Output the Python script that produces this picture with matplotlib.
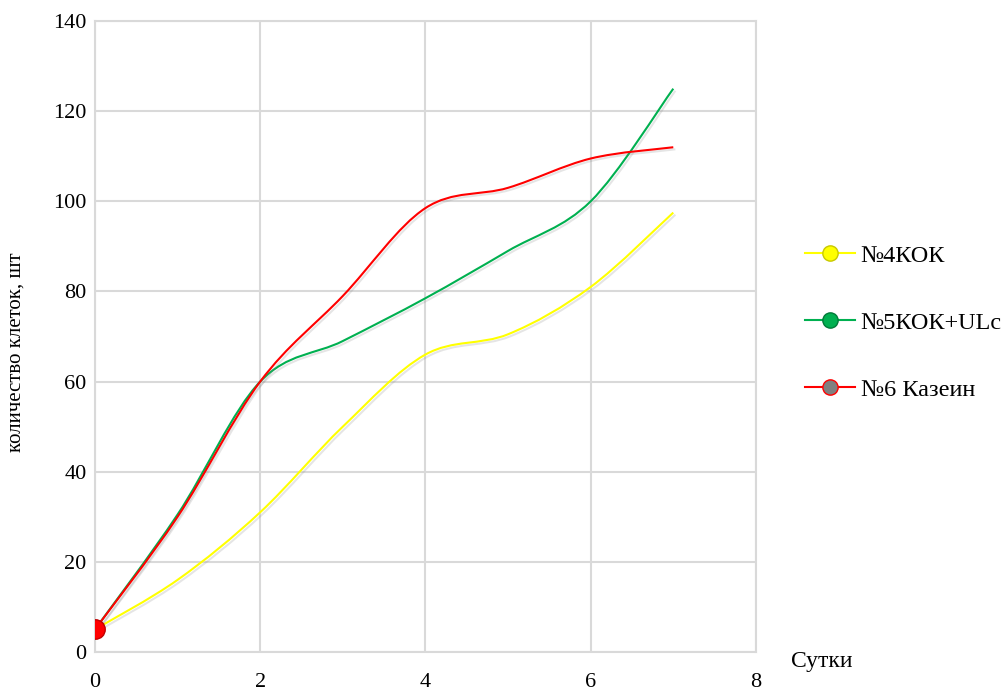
import matplotlib.pyplot as plt
import matplotlib.patheffects as pe
from matplotlib.path import Path
from matplotlib.patches import PathPatch
from matplotlib.lines import Line2D

plt.rcParams['font.family'] = ['Liberation Serif', 'DejaVu Serif']

days = [0, 1, 2, 3, 4, 5, 6, 7]
kok4 = [5, 16, 31, 50, 66, 70.5, 81, 97.5]
kok5_ulc = [5, 30.5, 60, 69, 78.5, 89, 100, 125]
casein6 = [5, 30, 60, 79, 98.5, 103, 109.5, 112]

labels = ['№4КОК', '№5КОК+ULc', '№6 Казеин']
colors = ['#FFFF00', '#00B050', '#FF0000']
marker_faces = ['#FFFF00', '#00B050', '#808080']
marker_edges = ['#C8C800', '#007A38', '#FF0000']


def smooth_path(xs, ys):
    # cubic Bezier segments through every point (spreadsheet-style smoothing)
    pts = list(zip(xs, ys))
    n = len(pts)
    verts = [pts[0]]
    codes = [Path.MOVETO]
    for i in range(n - 1):
        p0 = pts[max(i - 1, 0)]
        p1 = pts[i]
        p2 = pts[i + 1]
        p3 = pts[min(i + 2, n - 1)]
        c1 = (p1[0] + (p2[0] - p0[0]) / 6, p1[1] + (p2[1] - p0[1]) / 6)
        c2 = (p2[0] - (p3[0] - p1[0]) / 6, p2[1] - (p3[1] - p1[1]) / 6)
        verts += [c1, c2, p2]
        codes += [Path.CURVE4] * 3
    return Path(verts, codes)


fig = plt.figure(figsize=(10.06, 6.91), dpi=100)
ax = fig.add_axes([0.0944, 0.0565, 0.657, 0.913])

shadow = [pe.SimpleLineShadow(offset=(1.5, -1.5), shadow_color='gray', alpha=0.2),
          pe.Normal()]

for ys, color in zip([kok4, kok5_ulc, casein6], colors):
    patch = PathPatch(smooth_path(days, ys), facecolor='none', edgecolor=color,
                      linewidth=1.5, zorder=3)
    patch.set_path_effects(shadow)
    ax.add_patch(patch)

# marker on the starting value
ax.plot(days[0], casein6[0], 'o', markersize=14, markerfacecolor='#FF0000',
        markeredgecolor='#C00000', markeredgewidth=1, zorder=5)

ax.set_xlim(0, 8)
ax.set_ylim(0, 140)
ax.set_xticks(range(0, 9, 2))
ax.set_yticks(range(0, 141, 20))
ax.grid(True, color='#D9D9D9', linewidth=1.5)
ax.set_axisbelow(True)
for s in ax.spines.values():
    s.set_color('#D9D9D9')
    s.set_linewidth(1.5)
ax.tick_params(length=0, labelsize=16)
ax.tick_params(axis='x', pad=15)
ax.tick_params(axis='y', pad=6)

ax.set_ylabel('количество клеток, шт', fontsize=15)
ax.yaxis.set_label_coords(-0.105, 0.475)
fig.text(0.786, 0.042, 'Сутки', fontsize=17, ha='left', va='center')

handles = [Line2D([], [], color=c, linewidth=1.5, marker='o', markersize=11,
                  markerfacecolor=f, markeredgecolor=e)
           for c, f, e in zip(colors, marker_faces, marker_edges)]
fig.legend(handles, labels, loc='center left', bbox_to_anchor=(0.800, 0.533),
           frameon=False, fontsize=17.5, handlelength=2.05, labelspacing=1.85,
           handletextpad=0.25, borderpad=0, borderaxespad=0)

fig.savefig('out.png', dpi=100)
